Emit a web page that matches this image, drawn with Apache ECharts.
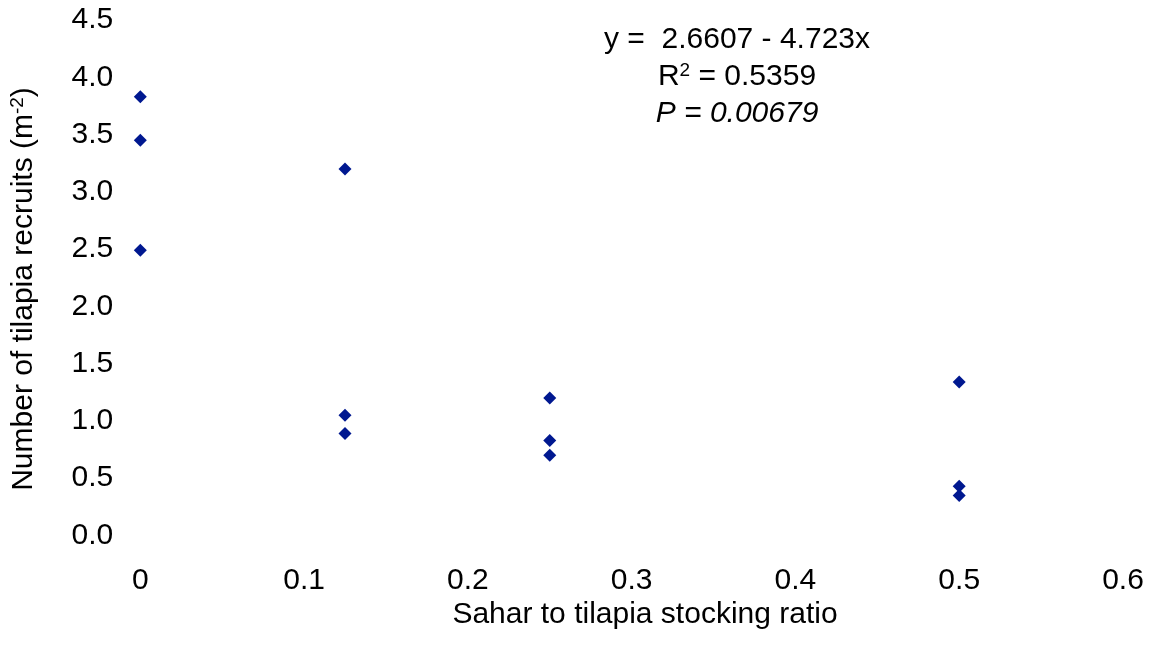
<!DOCTYPE html>
<html>
<head>
<meta charset="utf-8">
<title>Tilapia recruits vs Sahar stocking ratio</title>
<script src="https://cdn.jsdelivr.net/npm/echarts@6/dist/echarts.min.js"></script>
<style>
  html, body { margin: 0; padding: 0; background: #fff; }
  #chart { width: 1153px; height: 648px; }
</style>
</head>
<body>
<div id="chart"></div>
<script>
// Stocking ratio (Sahar : tilapia) for each treatment
const ratios = [0, 0.125, 0.25, 0.5];
// Tilapia recruits per m² in each replicate pond, grouped by ratio
const recruits0 = [3.83, 3.45, 2.49];
const recruits0125 = [3.20, 1.05, 0.89];
const recruits025 = [1.20, 0.83, 0.70];
const recruits05 = [1.34, 0.43, 0.35];
const recruitGroups = [recruits0, recruits0125, recruits025, recruits05];

// Regression summary shown on the plot
const fitLine = 'y =  2.6607 - 4.723x';
const fitR2 = '0.5359';
const fitP = '0.00679';

const points = [];
ratios.forEach((r, i) => recruitGroups[i].forEach(v => points.push([r, v])));

const FONT = '"Liberation Sans", Arial, sans-serif';
const chart = echarts.init(document.getElementById('chart'), null, { renderer: 'canvas' });

chart.setOption({
  backgroundColor: '#ffffff',
  animation: false,
  grid: { left: 140.3, right: 30, top: 20, bottom: 112.5 },
  xAxis: {
    type: 'value',
    min: 0, max: 0.6, interval: 0.1,
    axisLine: { show: false },
    axisTick: { show: false },
    splitLine: { show: false },
    axisLabel: {
      color: '#000', fontFamily: FONT, fontSize: 30, lineHeight: 30, margin: 30,
      formatter: v => (v === 0 ? '0' : v.toFixed(1))
    }
  },
  yAxis: {
    type: 'value',
    min: 0, max: 4.5, interval: 0.5,
    axisLine: { show: false },
    axisTick: { show: false },
    splitLine: { show: false },
    axisLabel: {
      color: '#000', fontFamily: FONT, fontSize: 30, margin: 27,
      formatter: v => v.toFixed(1)
    }
  },
  series: [{
    type: 'scatter',
    symbol: 'diamond',
    symbolSize: 13,
    itemStyle: { color: '#001890', opacity: 1 },
    data: points
  }],
  graphic: [
    {
      type: 'text',
      x: 24, y: 289,
      rotation: Math.PI / 2,
      style: {
        text: 'Number of tilapia recruits (m{sup|-2})',
        fill: '#000',
        font: '30px ' + FONT,
        align: 'center',
        verticalAlign: 'middle',
        rich: { sup: { fontSize: 19, fontFamily: FONT, verticalAlign: 'top', padding: [0, 0, 12, 0] } }
      }
    },
    {
      type: 'text',
      x: 645, y: 615,
      style: {
        text: 'Sahar to tilapia stocking ratio',
        fill: '#000',
        font: '30px ' + FONT,
        align: 'center',
        verticalAlign: 'middle'
      }
    },
    {
      type: 'text',
      x: 737, y: 77,
      style: {
        text: fitLine + '\nR{sup|2} = ' + fitR2 + '\n{it|P = ' + fitP + '}',
        fill: '#000',
        font: '30px ' + FONT,
        lineHeight: 37,
        align: 'center',
        verticalAlign: 'middle',
        rich: {
          sup: { fontSize: 19, fontFamily: FONT, lineHeight: 37, padding: [0, 0, 12, 0] },
          it: { fontSize: 30, fontFamily: FONT, fontStyle: 'italic', lineHeight: 37 }
        }
      }
    }
  ]
});
</script>
</body>
</html>
